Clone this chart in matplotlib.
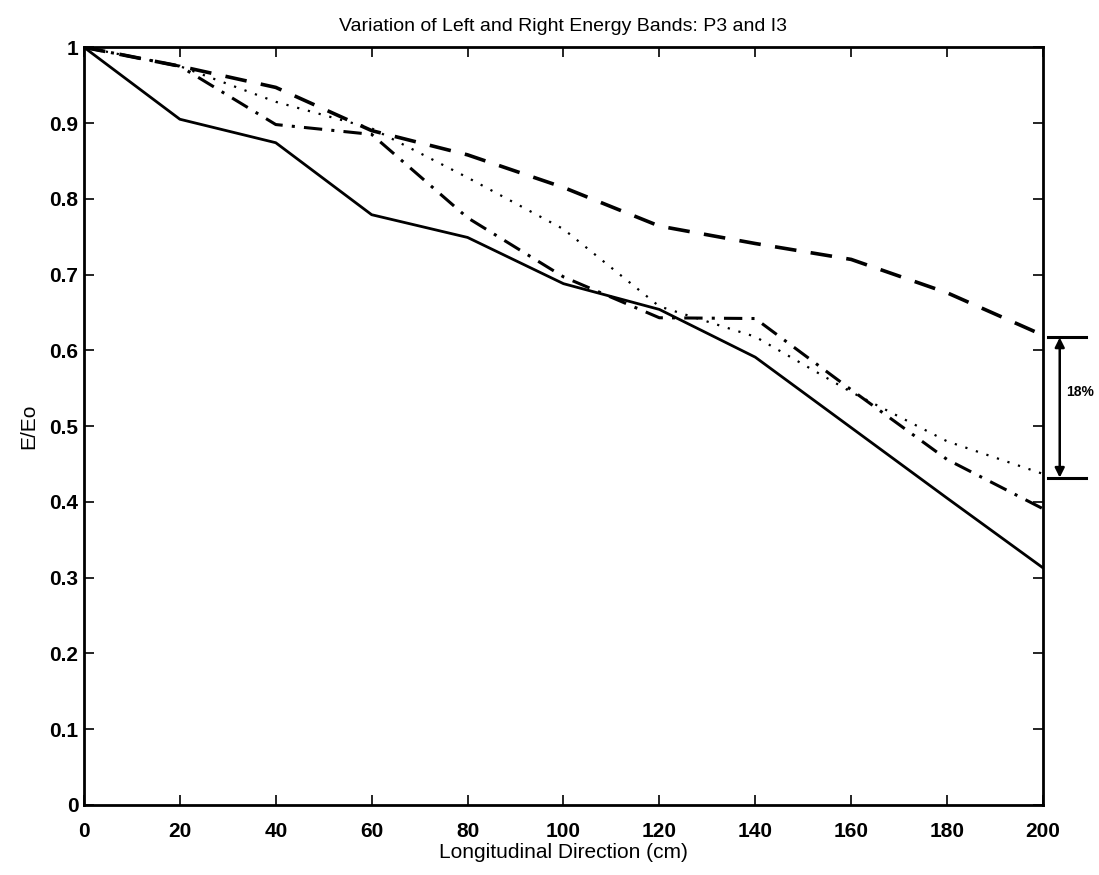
import numpy as np
import matplotlib.pyplot as plt

# ── Dados ──────────────────────────────────────────────────────────────────
posicao = [0, 20, 40, 60, 80, 100, 120, 140, 160, 180, 200]

curva_solida  = [1.0, 0.905, 0.874, 0.779, 0.749, 0.688, 0.654, 0.591, 0.498, 0.405, 0.313]
curva_tracos  = [1.0, 0.975, 0.947, 0.890, 0.858, 0.815, 0.764, 0.741, 0.720, 0.676, 0.620]
curva_pontos  = [1.0, 0.975, 0.928, 0.893, 0.828, 0.760, 0.658, 0.618, 0.545, 0.480, 0.437]
curva_tracopt = [1.0, 0.975, 0.898, 0.885, 0.775, 0.697, 0.643, 0.642, 0.548, 0.456, 0.391]

faixa_topo, faixa_base = 0.617, 0.432
rotulo_faixa = "18%"
# ───────────────────────────────────────────────────────────────────────────

plt.rcParams['font.family'] = ['Liberation Sans', 'DejaVu Sans']

fig = plt.figure(figsize=(10.99, 8.75), dpi=100)
ax = fig.add_axes([0.0764, 0.080, 0.8726, 0.866])

ax.plot(posicao, curva_solida, color='black', lw=2.0, ls='-')
ax.plot(posicao, curva_tracos, color='black', lw=2.6, ls=(0, (6, 4)))
ax.plot(posicao, curva_pontos, color='black', lw=1.6, ls=(0, (1, 4)))
ax.plot(posicao, curva_tracopt, color='black', lw=2.2, ls=(0, (6, 3, 1, 3)))

ax.set_xlim(0, 200)
ax.set_ylim(0, 1)
ax.set_xticks(np.arange(0, 201, 20))
ax.set_yticks(np.arange(0, 1.01, 0.1))
ax.set_yticklabels(['0', '0.1', '0.2', '0.3', '0.4', '0.5', '0.6', '0.7', '0.8', '0.9', '1'])
ax.tick_params(direction='in', length=7, width=1.2, top=True, right=True,
               labelsize=15)
ax.tick_params(axis='x', pad=12)
ax.tick_params(axis='y', pad=4)
for lbl in ax.get_xticklabels() + ax.get_yticklabels():
    lbl.set_fontweight('bold')
for s in ax.spines.values():
    s.set_linewidth(2.0)

ax.set_xlabel("Longitudinal Direction (cm)", fontsize=15, labelpad=2)
ax.set_ylabel("E/Eo", fontsize=15, labelpad=8)
ax.set_title("Variation of Left and Right Energy Bands: P3 and I3", fontsize=14, pad=12)

# seta dupla indicando a diferença entre as curvas
for y in (faixa_topo, faixa_base):
    ax.plot([201, 209], [y, y], color='black', lw=2.2, clip_on=False)
ax.annotate('', xy=(203.5, faixa_base), xytext=(203.5, faixa_topo),
            arrowprops=dict(arrowstyle='<|-|>', color='black', lw=1.8,
                            mutation_scale=14, shrinkA=0, shrinkB=0),
            annotation_clip=False)
ax.text(204.8, (faixa_topo + faixa_base) / 2 + 0.02, rotulo_faixa,
        fontsize=10, fontweight='bold', va='center', ha='left', clip_on=False)

fig.savefig("out.png", dpi=100)
